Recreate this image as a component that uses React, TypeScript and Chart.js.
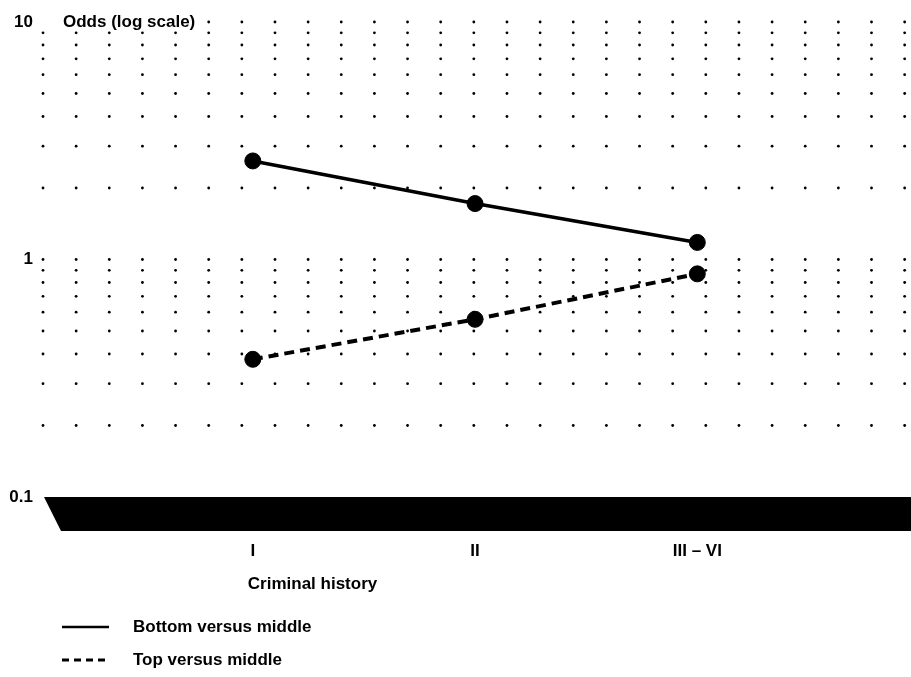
import React, { useEffect, useRef } from "react";
import { Chart, registerables } from "chart.js";

Chart.register(...registerables);

const categories = ["I", "II", "III – VI"];
const categoryPositions = [1, 2, 3];
const bottomVsMiddle = [2.6, 1.72, 1.18];
const topVsMiddle = [0.38, 0.56, 0.87];
const yTickValues = [0.1, 1, 10];
const yTickLabels = ["0.1", "1", "10"];
const seriesLabels = ["Bottom versus middle", "Top versus middle"];
const yAxisTitle = "Odds (log scale)";
const xAxisTitle = "Criminal history";
const gridColumnCount = 27;

const FONT = "'Liberation Sans', Arial, Helvetica, sans-serif";

const decorPlugin = {
  id: "decor",
  beforeDatasetsDraw(chart: any) {
    const { ctx, chartArea, scales } = chart;
    const y = scales.y;
    const x2 = scales.x2;
    ctx.save();
    // dot lattice
    const rows: number[] = [];
    for (let m = 2; m <= 9; m++) rows.push(m / 10);
    for (let m = 1; m <= 10; m++) rows.push(m);
    ctx.fillStyle = "#000";
    for (let i = 0; i < gridColumnCount; i++) {
      const px = x2.getPixelForValue(i);
      for (const r of rows) {
        const py = y.getPixelForValue(r);
        ctx.beginPath();
        ctx.arc(px, py, 1.4, 0, Math.PI * 2);
        ctx.fill();
      }
    }
    // floor band
    const top = y.getPixelForValue(0.1);
    const depth = 34;
    ctx.beginPath();
    ctx.moveTo(chartArea.left + 1, top);
    ctx.lineTo(chart.width, top);
    ctx.lineTo(chart.width, top + depth);
    ctx.lineTo(chartArea.left + 18, top + depth);
    ctx.closePath();
    ctx.fill();
    // y axis title with white background
    ctx.font = `bold 17px ${FONT}`;
    const tx = chartArea.left + 20;
    const ty = y.getPixelForValue(10);
    const w = ctx.measureText(yAxisTitle).width;
    ctx.fillStyle = "#fff";
    ctx.fillRect(chartArea.left - 4, ty - 8, tx - chartArea.left + w + 10, 16);
    ctx.fillStyle = "#000";
    ctx.textBaseline = "middle";
    ctx.textAlign = "left";
    ctx.fillText(yAxisTitle, tx, ty);
    ctx.restore();
  },
  afterDraw(chart: any) {
    const { ctx, scales } = chart;
    const x = scales.x;
    ctx.save();
    ctx.font = `bold 17px ${FONT}`;
    ctx.fillStyle = "#000";
    ctx.textBaseline = "middle";
    ctx.textAlign = "left";
    ctx.fillText(xAxisTitle, x.getPixelForValue(categoryPositions[0]) - 5, 584);
    // legend
    const items = chart.data.datasets;
    items.forEach((ds: any, i: number) => {
      const ly = 627 + i * 33;
      const dashed = ds.borderDash && ds.borderDash.length;
      ctx.beginPath();
      ctx.strokeStyle = "#000";
      ctx.lineWidth = dashed ? 3 : 2.5;
      ctx.setLineDash(dashed ? [7, 5] : []);
      ctx.moveTo(62, ly);
      ctx.lineTo(109, ly);
      ctx.stroke();
      ctx.setLineDash([]);
      ctx.fillText(ds.label, 133, ly);
    });
    ctx.restore();
  },
};

export default function App() {
  const ref = useRef<HTMLCanvasElement | null>(null);
  useEffect(() => {
    document.body.style.margin = "0";
    const canvas = ref.current!;
    const chart = new Chart(canvas, {
      type: "line",
      data: {
        datasets: [
          {
            label: seriesLabels[0],
            data: categoryPositions.map((p, i) => ({ x: p, y: bottomVsMiddle[i] })),
            borderColor: "#000",
            backgroundColor: "#000",
            borderWidth: 3.5,
            pointRadius: 8,
            pointBackgroundColor: "#000",
            pointBorderColor: "#000",
            pointBorderWidth: 1,
            xAxisID: "x",
            yAxisID: "y",
          },
          {
            label: seriesLabels[1],
            data: categoryPositions.map((p, i) => ({ x: p, y: topVsMiddle[i] })),
            borderColor: "#000",
            backgroundColor: "#000",
            borderWidth: 4,
            borderDash: [10, 6],
            pointRadius: 8,
            pointBackgroundColor: "#000",
            pointBorderColor: "#000",
            pointBorderWidth: 1,
            xAxisID: "x",
            yAxisID: "y",
          },
        ],
      },
      options: {
        animation: false,
        responsive: false,
        devicePixelRatio: 1,
        layout: { padding: { top: 22, left: 0, right: 0, bottom: 0 } },
        plugins: { legend: { display: false }, tooltip: { enabled: false } },
        scales: {
          x: {
            type: "linear",
            position: "bottom",
            min: 0.056,
            max: 3.921,
            grid: { display: false, drawTicks: false },
            border: { display: false },
            afterBuildTicks: (s: any) => {
              s.ticks = categoryPositions.map((v) => ({ value: v }));
            },
            afterFit: (s: any) => {
              s.height = 180;
            },
            ticks: {
              autoSkip: false,
              maxRotation: 0,
              padding: 44,
              color: "#000",
              font: { family: FONT, size: 17, weight: "bold" },
              callback: (v: any) => categories[categoryPositions.indexOf(Number(v))] ?? "",
            },
          },
          x2: {
            type: "linear",
            display: false,
            min: 0,
            max: 25.92,
          },
          y: {
            type: "logarithmic",
            position: "left",
            min: 0.1,
            max: 10,
            grid: { display: false, drawTicks: false },
            border: { display: false },
            afterBuildTicks: (s: any) => {
              s.ticks = yTickValues.map((v) => ({ value: v }));
            },
            afterFit: (s: any) => {
              s.width = 43;
            },
            ticks: {
              padding: 10,
              color: "#000",
              font: { family: FONT, size: 17, weight: "bold" },
              callback: (v: any) => yTickLabels[yTickValues.indexOf(Number(v))] ?? "",
            },
          },
        },
      } as any,
      plugins: [decorPlugin],
    });
    return () => chart.destroy();
  }, []);
  return (
    <div style={{ width: 911, height: 677, background: "#fff" }}>
      <canvas ref={ref} width={911} height={677} />
    </div>
  );
}
